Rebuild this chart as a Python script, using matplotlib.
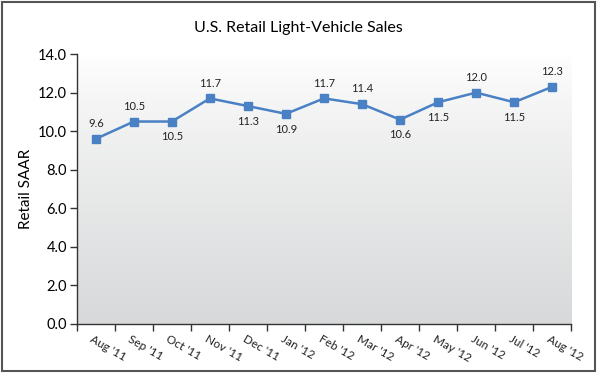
import matplotlib
matplotlib.use("Agg")
import matplotlib.pyplot as plt
import numpy as np
from matplotlib.patches import Rectangle
from matplotlib.colors import LinearSegmentedColormap

months = ["Aug '11", "Sep '11", "Oct '11", "Nov '11", "Dec '11", "Jan '12", "Feb '12",
          "Mar '12", "Apr '12", "May '12", "Jun '12", "Jul '12", "Aug '12"]
values = [9.6, 10.5, 10.5, 11.7, 11.3, 10.9, 11.7, 11.4, 10.6, 11.5, 12.0, 11.5, 12.3]
label_pos = ["above", "above", "below", "above", "below", "below", "above",
             "above", "below", "below", "above", "below", "above"]
y_ticks = [0, 2, 4, 6, 8, 10, 12, 14]

plt.rcParams['font.family'] = ['Lato', 'DejaVu Sans']

fig = plt.figure(figsize=(6.0, 3.78), dpi=100)
fig.patch.set_facecolor('white')
fig.patches.append(Rectangle((0.003, 0.018), 0.989, 0.977, transform=fig.transFigure,
                             fill=False, edgecolor='#555555', linewidth=1.5, zorder=0))

ax = fig.add_axes([0.128, 0.143, 0.824, 0.714])
n = len(months)
x = np.arange(n) + 0.5

# gradient background: white at top to light gray at bottom
grad = (np.linspace(0, 1, 256) ** 0.8).reshape(-1, 1)
cmap = LinearSegmentedColormap.from_list('g', ['#ffffff', '#d8d9da'])
ax.imshow(grad, aspect='auto', cmap=cmap, extent=[0, n, 0, 14], origin='upper', zorder=0)

ax.plot(x, values, color='#4a80c4', linewidth=1.8, marker='s', markersize=5.5,
        markerfacecolor='#4a80c4', markeredgecolor='#4a80c4', zorder=3)

for xi, v, p in zip(x, values, label_pos):
    if p == "above":
        ax.annotate(f"{v:.1f}", (xi, v), xytext=(0, 7), textcoords='offset points',
                    ha='center', va='bottom', fontsize=8, color='#222222')
    else:
        ax.annotate(f"{v:.1f}", (xi, v), xytext=(0, -7), textcoords='offset points',
                    ha='center', va='top', fontsize=8, color='#222222')

ax.set_xlim(0, n)
ax.set_ylim(0, 14)
ax.set_yticks(y_ticks)
ax.set_yticklabels([f"{t:.1f}" for t in y_ticks], fontsize=10.5)
ax.set_xticks(np.arange(n + 1))
ax.set_xticklabels([])
ax.tick_params(axis='both', direction='out', length=5, width=1, color='#333333')
ax.tick_params(axis='y', pad=2)

for xi, m in zip(x, months):
    ax.text(xi - 0.05, -0.5, m, rotation=-30, rotation_mode='anchor', ha='left', va='top',
            fontsize=8.5, color='#222222', transform=ax.transData, clip_on=False)

for s in ['top', 'right']:
    ax.spines[s].set_visible(False)
for s in ['left', 'bottom']:
    ax.spines[s].set_color('#333333')
    ax.spines[s].set_linewidth(1)

ax.set_ylabel("Retail SAAR", fontsize=11, labelpad=4)
fig.text(0.497, 0.925, "U.S. Retail Light-Vehicle Sales", ha='center', va='center', fontsize=11.5)

fig.savefig("out.png", dpi=100, facecolor='white')
